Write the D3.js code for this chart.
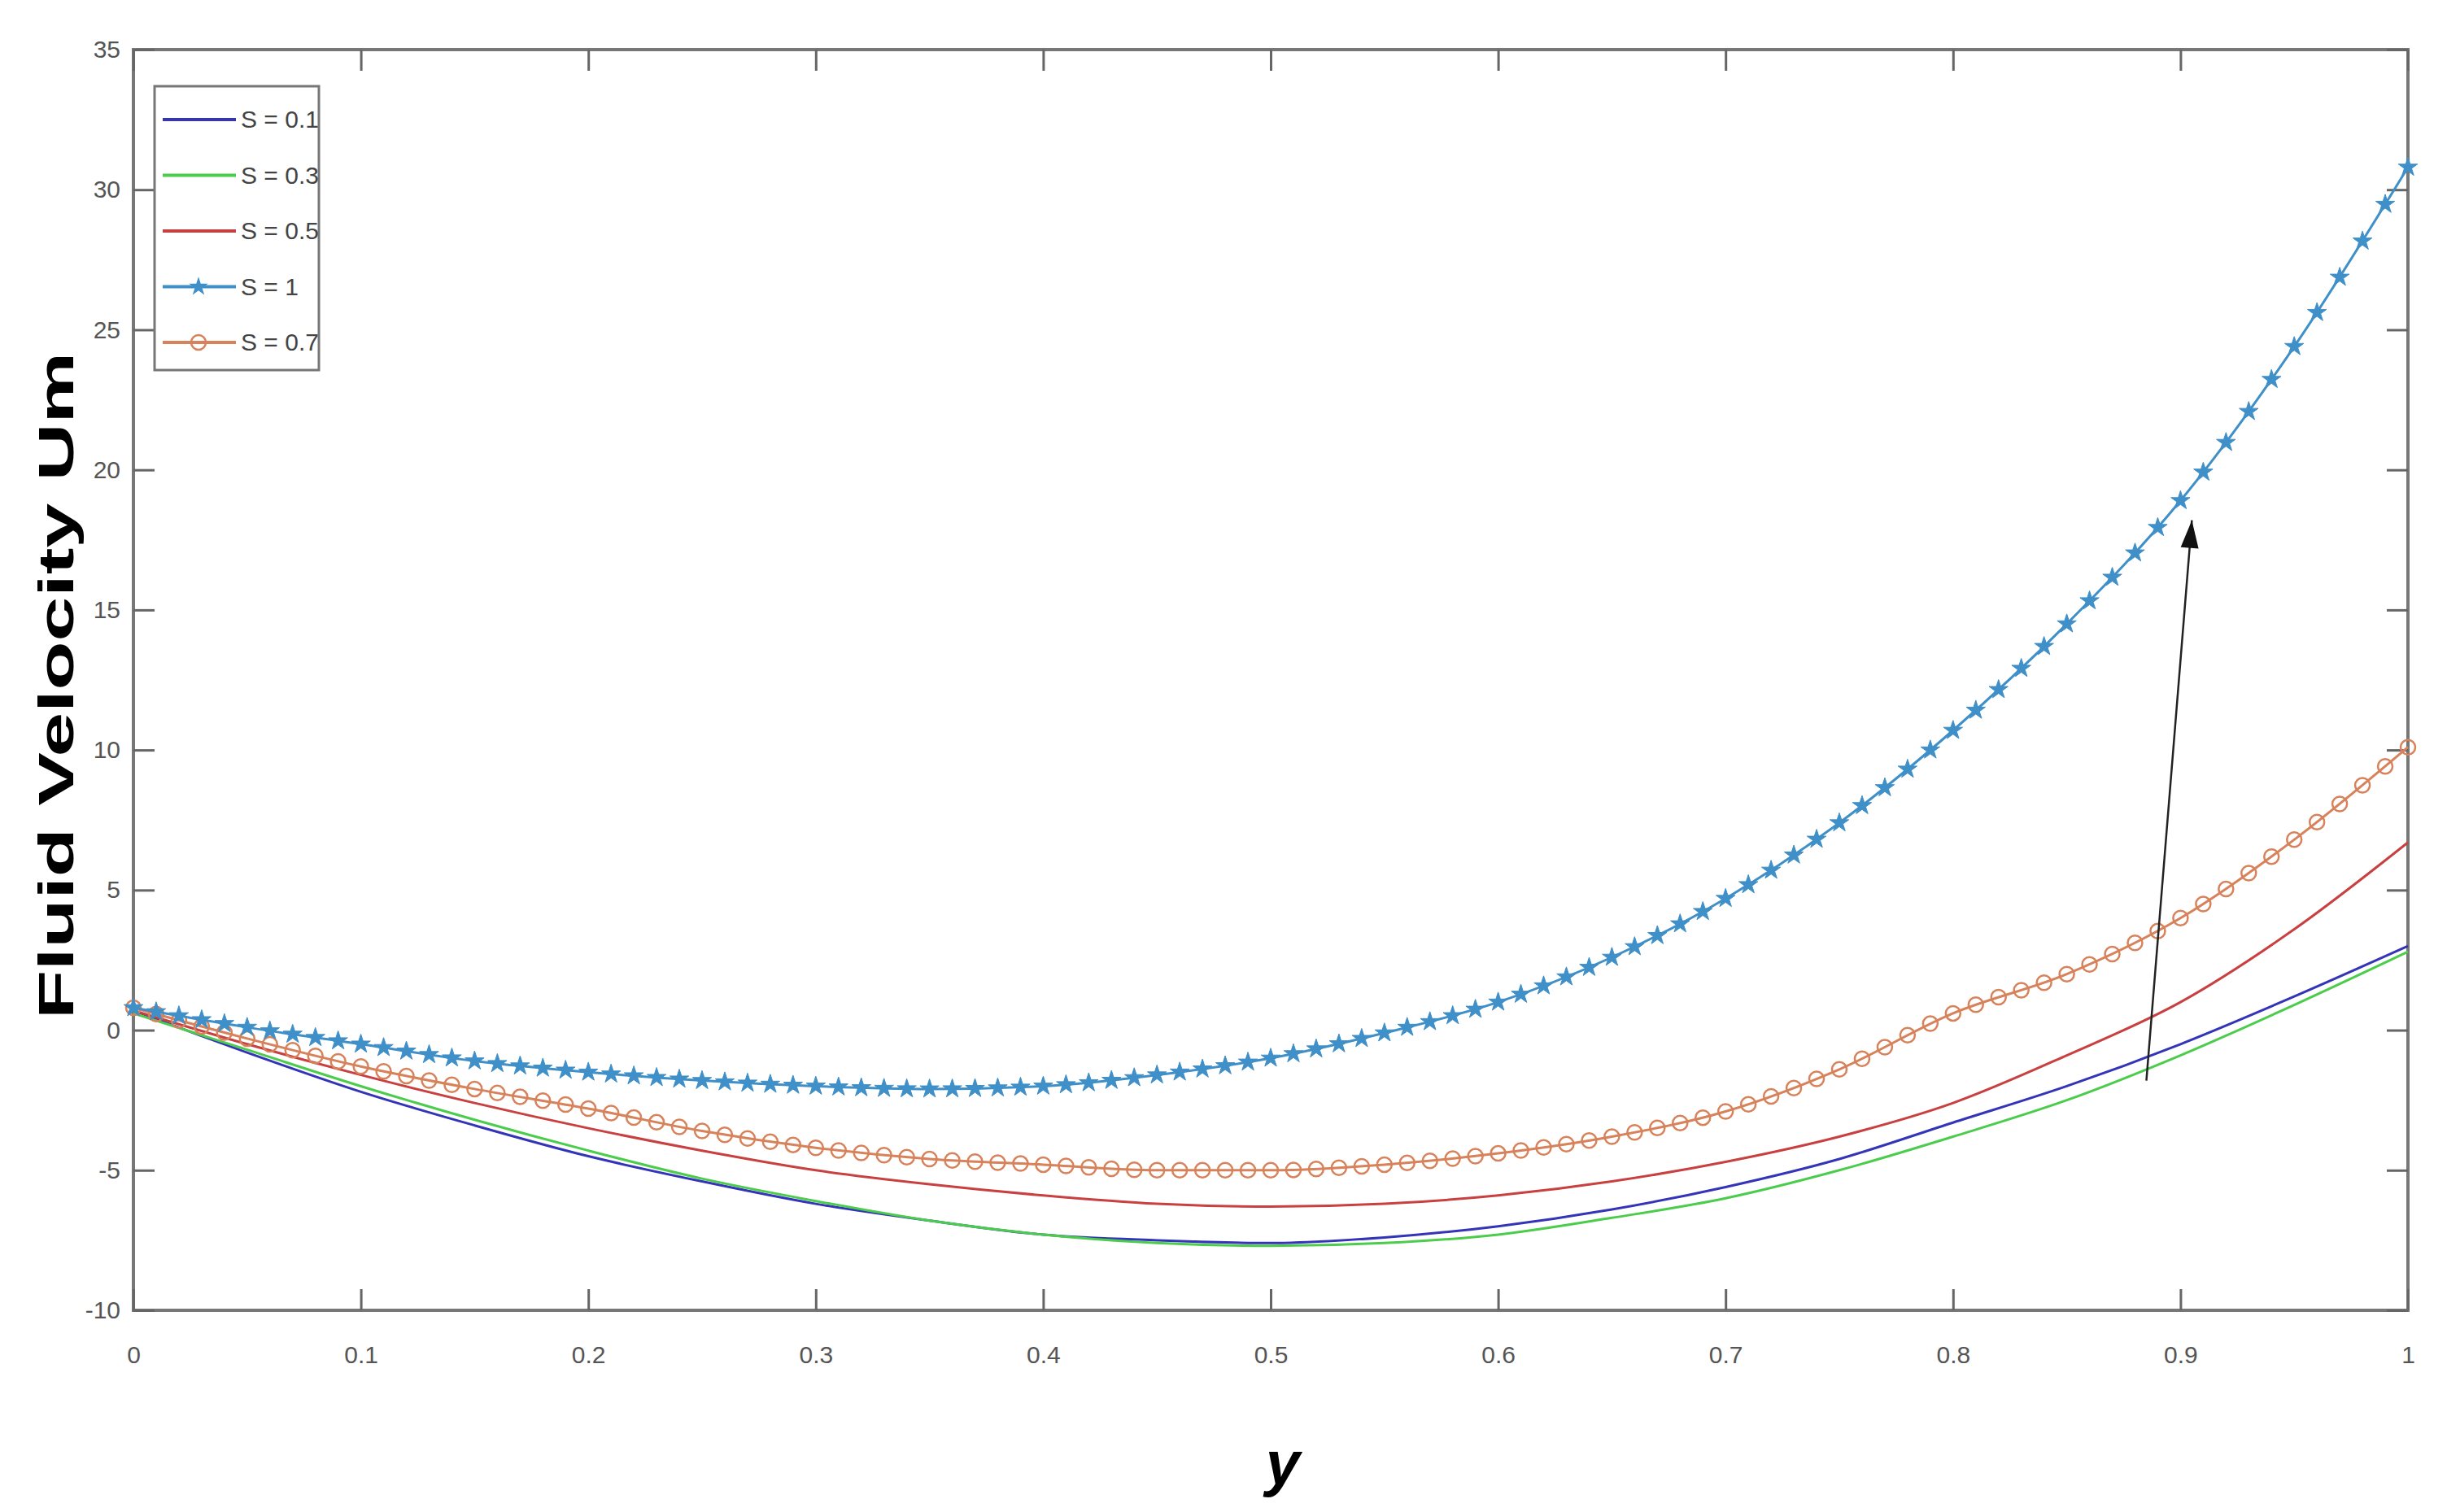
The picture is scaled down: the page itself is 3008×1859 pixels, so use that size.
<!DOCTYPE html>
<html><head><meta charset="utf-8">
<script src="https://cdn.jsdelivr.net/npm/d3@7"></script>
<style>body{margin:0;background:#fff}</style></head>
<body><svg id="c" width="3008" height="1859"></svg>
<script>
const xs = [0,0.05,0.1,0.15,0.2,0.25,0.3,0.35,0.4,0.45,0.5,0.55,0.6,0.65,0.7,0.75,0.8,0.85,0.9,0.95,1];
const s01 = [0.7,-0.8,-2.2,-3.4,-4.5,-5.4,-6.2,-6.8,-7.3,-7.5,-7.6,-7.4,-7.0,-6.4,-5.6,-4.6,-3.3,-2.0,-0.5,1.2,3.0];
const s03 = [0.6,-0.7,-2.0,-3.2,-4.3,-5.3,-6.1,-6.8,-7.3,-7.6,-7.7,-7.6,-7.3,-6.7,-6.0,-5.0,-3.8,-2.5,-0.9,0.9,2.8];
const s05 = [0.7,-0.5,-1.6,-2.6,-3.5,-4.3,-5.0,-5.5,-5.9,-6.2,-6.3,-6.2,-5.9,-5.4,-4.7,-3.8,-2.6,-0.9,1.0,3.6,6.7];
const s07 = [0.8,-0.3,-1.3,-2.1,-2.8,-3.6,-4.2,-4.6,-4.8,-5.0,-5.0,-4.8,-4.4,-3.8,-2.9,-1.4,0.6,2.0,4.0,6.8,10.1];
const s1  = [0.8,0.1,-0.5,-1.1,-1.5,-1.8,-2.0,-2.1,-2.0,-1.6,-1.0,-0.1,1.0,2.6,4.7,7.4,10.7,14.5,18.9,24.4,30.8];
const xTicks = [0,0.1,0.2,0.3,0.4,0.5,0.6,0.7,0.8,0.9,1];
const yTicks = [-10,-5,0,5,10,15,20,25,30,35];
const legendLabels = ["S = 0.1","S = 0.3","S = 0.5","S = 1","S = 0.7"];
const arrowPts = [[0.885,-1.8],[0.905,18.2]];

const svg = d3.select("#c");
const L=164,R=2960,T=61,B=1611;
const x = d3.scaleLinear().domain([0,1]).range([L,R]);
const y = d3.scaleLinear().domain([-10,35]).range([B,T]);
const font = "'Liberation Sans Narrow','Liberation Sans',Arial,sans-serif";

svg.append("rect").attr("x",L).attr("y",T).attr("width",R-L).attr("height",B-T)
  .attr("fill","none").attr("stroke","#777").attr("stroke-width",4);
const tk=26;
const gx=svg.append("g").attr("transform",`translate(0,${B})`)
  .call(d3.axisBottom(x).tickValues(xTicks).tickSize(-tk).tickPadding(44).tickFormat(d=>String(d)));
const gxt=svg.append("g").attr("transform",`translate(0,${T})`).call(d3.axisTop(x).tickValues(xTicks).tickSize(-tk).tickFormat(""));
const gy=svg.append("g").attr("transform",`translate(${L},0)`)
  .call(d3.axisLeft(y).tickValues(yTicks).tickSize(-tk).tickPadding(16).tickFormat(d=>String(d)));
const gyr=svg.append("g").attr("transform",`translate(${R},0)`).call(d3.axisRight(y).tickValues(yTicks).tickSize(-tk).tickFormat(""));
[gx,gxt,gy,gyr].forEach(g=>{g.select(".domain").remove();
  g.selectAll(".tick line").attr("stroke","#666").attr("stroke-width",3);
  g.selectAll("text").attr("font-family",font).attr("font-size",30).attr("fill","#555");});

const line = d3.line().x((d,i)=>x(xs[i])).y(d=>y(d)).curve(d3.curveMonotoneX);
const series=[{v:s01,c:"#3434b8"},{v:s03,c:"#4ccc4c"},{v:s05,c:"#c94040"},{v:s07,c:"#d7825a",m:"o"},{v:s1,c:"#3f8fc8",m:"*"}];
const star = d3.symbol().type(d3.symbolStar).size(170);
series.forEach(s=>{
  const p=svg.append("path").attr("d",line(s.v)).attr("fill","none").attr("stroke",s.c).attr("stroke-width",3);
  if(s.m){
    const node=p.node(), len=node.getTotalLength();
    const pts=[];
    for(let k=0;k<=100;k++){
      const tx=x(k/100);
      let lo=0,hi=len;
      for(let it=0;it<40;it++){const mid=(lo+hi)/2; if(node.getPointAtLength(mid).x<tx) lo=mid; else hi=mid;}
      pts.push(node.getPointAtLength(lo));
    }
    pts.forEach(pt=>{
      if(s.m==="o") svg.append("circle").attr("cx",pt.x).attr("cy",pt.y).attr("r",9).attr("fill","none").attr("stroke",s.c).attr("stroke-width",2.5);
      else svg.append("path").attr("d",star()).attr("transform",`translate(${pt.x},${pt.y})`).attr("fill",s.c).attr("stroke",s.c).attr("stroke-width",1);
    });
  }
});

const a0=arrowPts[0],a1=arrowPts[1];
const X0=x(a0[0]),Y0=y(a0[1]),X1=x(a1[0]),Y1=y(a1[1]);
svg.append("line").attr("x1",X0).attr("y1",Y0).attr("x2",X1).attr("y2",Y1).attr("stroke","#222").attr("stroke-width",2.5);
const ang=Math.atan2(Y1-Y0,X1-X0);
const hl=34,hw=11;
const bx=X1-hl*Math.cos(ang), by=Y1-hl*Math.sin(ang);
svg.append("path").attr("d",`M${X1},${Y1}L${bx+hw*Math.sin(ang)},${by-hw*Math.cos(ang)}L${bx-hw*Math.sin(ang)},${by+hw*Math.cos(ang)}Z`).attr("fill","#111");

svg.append("rect").attr("x",190).attr("y",106).attr("width",202).attr("height",349).attr("fill","#fff").attr("stroke","#777").attr("stroke-width",3);
const legC=["#3434b8","#4ccc4c","#c94040","#3f8fc8","#d7825a"];
legendLabels.forEach((t,i)=>{
  const yy=147+i*68.5;
  svg.append("line").attr("x1",200).attr("x2",290).attr("y1",yy).attr("y2",yy).attr("stroke",legC[i]).attr("stroke-width",4);
  if(i===3) svg.append("path").attr("d",star()).attr("transform",`translate(244,${yy})`).attr("fill",legC[i]);
  if(i===4) svg.append("circle").attr("cx",244).attr("cy",yy).attr("r",9).attr("fill","none").attr("stroke",legC[i]).attr("stroke-width",2.5);
  svg.append("text").attr("x",296).attr("y",yy+10).text(t).attr("font-family",font).attr("font-size",30).attr("fill","#444");
});

svg.append("text").attr("transform","translate(90,843) rotate(-90)").attr("text-anchor","middle")
  .attr("font-family","'Liberation Sans',Arial,sans-serif").attr("font-weight","bold").attr("font-size",62)
  .attr("textLength",820).attr("lengthAdjust","spacingAndGlyphs").text("Fluid Velocity Um");
svg.append("text").attr("x",1577).attr("y",1825).attr("text-anchor","middle")
  .attr("font-family","'Liberation Sans',Arial,sans-serif").attr("font-weight","bold").attr("font-style","italic").attr("font-size",76).text("y");
</script></body></html>
